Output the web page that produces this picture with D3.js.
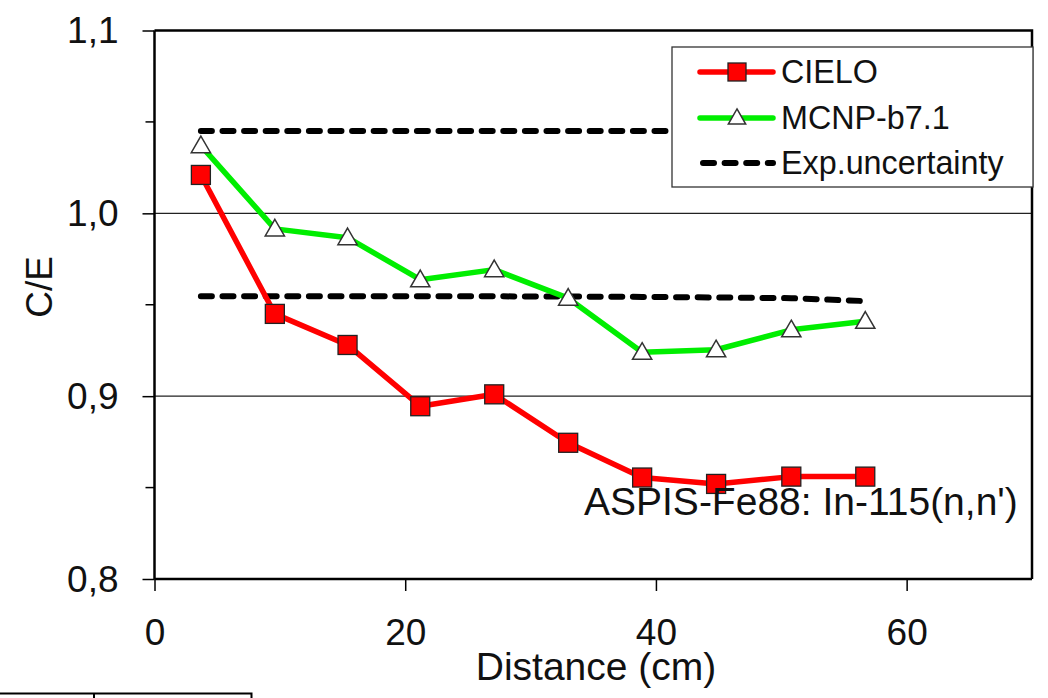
<!DOCTYPE html>
<html><head><meta charset="utf-8">
<script src="https://cdn.jsdelivr.net/npm/d3@7"></script>
<style>
html,body{margin:0;padding:0;background:#fff;}
svg{display:block;font-family:"Liberation Sans",Arial,sans-serif;}
</style></head>
<body>
<svg id="chart" width="1048" height="698"></svg>
<script>
const distance = [3.7, 9.6, 15.4, 21.2, 27.1, 33.0, 38.9, 44.8, 50.8, 56.7];
const cielo = [1.021, 0.945, 0.928, 0.8945, 0.901, 0.8745, 0.8555, 0.852, 0.856, 0.856];
const mcnp = [1.037, 0.9915, 0.9867, 0.9637, 0.9692, 0.9536, 0.924, 0.9254, 0.9363, 0.941];
const expUpper = [1.045, 1.045, 1.045, 1.045, 1.045, 1.045, 1.045, 1.045, 1.045, 1.045];
const expLower = [0.9547, 0.9547, 0.9547, 0.9547, 0.9546, 0.9545, 0.9543, 0.954, 0.9536, 0.952];
const xTicks = [0, 20, 40, 60];
const yTicks = [0.8, 0.9, 1.0, 1.1];
const yMinorTicks = [0.85, 0.95, 1.05];
const yGrid = [0.9, 1.0];
const legendLabels = ["CIELO", "MCNP-b7.1", "Exp.uncertainty"];
const annotation = "ASPIS-Fe88: In-115(n,n')";

const svg = d3.select("#chart");
const L = 154.5, R = 1032, T = 30.5, B = 579;
const x = d3.scaleLinear().domain([0, 70]).range([L, R]);
const y = d3.scaleLinear().domain([0.8, 1.1]).range([B, T]);
const fmt = d => d3.format(".1f")(d).replace(".", ",");

// gridlines
svg.append("g").selectAll("line").data(yGrid).join("line")
  .attr("x1", L).attr("x2", R).attr("y1", d => y(d)).attr("y2", d => y(d))
  .attr("stroke", "#222").attr("stroke-width", 1.3);

// frame top/right
svg.append("path").attr("d", `M${L},${T}H${R}V${B}`).attr("fill", "none")
  .attr("stroke", "#000").attr("stroke-width", 2.5);

// y axis
const yAxis = svg.append("g").attr("transform", `translate(${L},0)`)
  .call(d3.axisLeft(y).tickValues(yTicks).tickSize(12).tickFormat(fmt));
yAxis.select(".domain").attr("stroke", "#000").attr("stroke-width", 2.5).attr("d", `M0,${T}V${B}`);
yAxis.selectAll(".tick line").attr("stroke", "#000").attr("stroke-width", 1.5);
yAxis.selectAll(".tick text").attr("x", -36).attr("font-size", 37).attr("fill", "#111")
  .attr("font-family", "'Liberation Sans',Arial,sans-serif").attr("dy", "0.33em");
svg.append("g").selectAll("line").data(yMinorTicks).join("line")
  .attr("x1", L - 9).attr("x2", L).attr("y1", d => y(d)).attr("y2", d => y(d))
  .attr("stroke", "#000").attr("stroke-width", 1.5);

// x axis
const xAxis = svg.append("g").attr("transform", `translate(0,${B})`)
  .call(d3.axisBottom(x).tickValues(xTicks).tickSize(12).tickFormat(d3.format("d")));
xAxis.select(".domain").attr("stroke", "#000").attr("stroke-width", 2.5).attr("d", `M${L},0H${R}`);
xAxis.selectAll(".tick line").attr("stroke", "#000").attr("stroke-width", 1.5);
xAxis.selectAll(".tick text").attr("y", 66).attr("dy", null).attr("font-size", 37).attr("fill", "#111")
  .attr("font-family", "'Liberation Sans',Arial,sans-serif");

// axis titles
svg.append("text").attr("x", 596).attr("y", 680).attr("text-anchor", "middle")
  .attr("font-size", 39).attr("fill", "#111").text("Distance (cm)");
svg.append("text").attr("transform", "translate(52,287) rotate(-90)").attr("text-anchor", "middle")
  .attr("font-size", 37).attr("fill", "#111").text("C/E");

// dashed exp. uncertainty lines
const line = d3.line().x((d, i) => x(distance[i])).y(d => y(d));
[expUpper, expLower].forEach(arr => {
  svg.append("path").attr("d", line(arr)).attr("fill", "none").attr("stroke", "#000")
    .attr("stroke-width", 6).attr("stroke-dasharray", "11 10.6").attr("stroke-linecap", "round");
});

// green MCNP line
svg.append("path").attr("d", line(mcnp)).attr("fill", "none").attr("stroke", "#00ee00")
  .attr("stroke-width", 5.5).attr("stroke-linejoin", "round");
// red CIELO line
svg.append("path").attr("d", line(cielo)).attr("fill", "none").attr("stroke", "#ff0000")
  .attr("stroke-width", 5.5).attr("stroke-linejoin", "round");

const tri = d3.symbol().type(d3.symbolTriangle).size(160);
svg.append("g").selectAll("path").data(mcnp).join("path")
  .attr("transform", (d, i) => `translate(${x(distance[i])},${y(d) + 1.5})`)
  .attr("d", tri).attr("fill", "#fff").attr("stroke", "#333").attr("stroke-width", 1.5);
svg.append("g").selectAll("rect").data(cielo).join("rect")
  .attr("x", (d, i) => x(distance[i]) - 9.5).attr("y", d => y(d) - 9.5)
  .attr("width", 19).attr("height", 19).attr("fill", "#ff0000").attr("stroke", "#222").attr("stroke-width", 1.3);

// annotation
svg.append("text").attr("x", 584).attr("y", 515).attr("font-size", 39).attr("fill", "#111").text(annotation);

// legend
const lg = svg.append("g");
lg.append("rect").attr("x", 672).attr("y", 47).attr("width", 361).attr("height", 140)
  .attr("fill", "#fff").attr("stroke", "#333").attr("stroke-width", 1.3);
const rowsY = [72, 118, 163];
const colors = ["#ff0000", "#00ee00", "#000"];
legendLabels.forEach((lab, i) => {
  const ly = rowsY[i];
  const ln = lg.append("line").attr("x1", 700).attr("x2", 773).attr("y1", ly).attr("y2", ly)
    .attr("stroke", colors[i]).attr("stroke-width", i === 2 ? 6 : 5.5).attr("stroke-linecap", "round");
  if (i === 2) ln.attr("x1", 703).attr("stroke-dasharray", "11 10.6");
  if (i === 0) lg.append("rect").attr("x", 728).attr("y", ly - 9).attr("width", 18).attr("height", 18)
    .attr("fill", "#ff0000").attr("stroke", "#222").attr("stroke-width", 1.3);
  if (i === 1) lg.append("path").attr("transform", `translate(737,${ly + 1})`)
    .attr("d", d3.symbol().type(d3.symbolTriangle).size(130)).attr("fill", "#fff").attr("stroke", "#333").attr("stroke-width", 1.5);
  lg.append("text").attr("x", 781).attr("y", ly + 11).attr("font-size", 32.3).attr("fill", "#111").text(lab);
});

// cropped table edge at bottom-left
svg.append("path").attr("d", "M0,693.5H251.5V698M94,693.5V698").attr("fill", "none")
  .attr("stroke", "#000").attr("stroke-width", 2);
</script>
</body></html>
